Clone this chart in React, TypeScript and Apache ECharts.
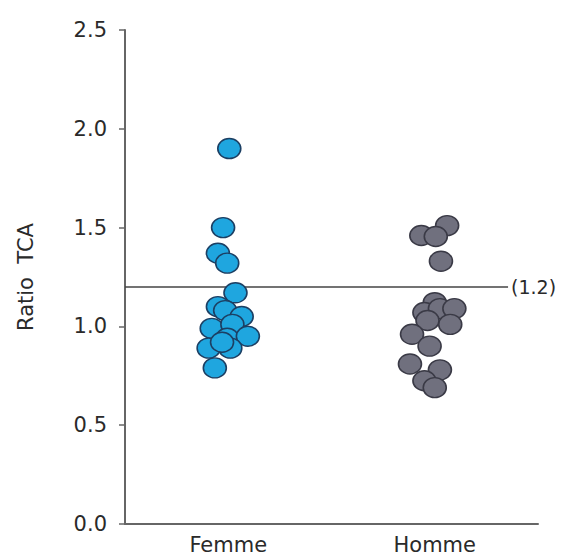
import React, { useEffect, useRef } from "react";
import * as echarts from "echarts";

// Groups on the x axis
const categories = ["Femme", "Homme"];

// Ratio TCA per subject, with a small horizontal jitter (in category units)
const femmeValues = [1.9, 1.5, 1.37, 1.32, 1.17, 1.1, 1.08, 1.05, 0.99, 1.01, 0.94, 0.95, 0.89, 0.89, 0.79, 0.92];
const femmeJitter = [0.005, -0.025, -0.05, -0.005, 0.035, -0.05, -0.015, 0.065, -0.08, 0.02, -0.005, 0.095, 0.01, -0.095, -0.065, -0.03];

const hommeValues = [1.51, 1.46, 1.455, 1.33, 1.12, 1.07, 1.09, 1.09, 1.03, 1.01, 0.96, 0.9, 0.81, 0.78, 0.725, 0.69];
const hommeJitter = [0.06, -0.065, 0.005, 0.03, 0, -0.05, 0.025, 0.095, -0.035, 0.075, -0.11, -0.025, -0.12, 0.025, -0.05, 0];

// Threshold line
const threshold = 1.2;
const thresholdLabel = "(1.2)";

const yTicks = { min: 0, max: 2.5, interval: 0.5 };

const FONT = "DejaVu Sans, Verdana, sans-serif";

// Slightly wide oval marker
const OVAL = "path://M0,50 A50,50 0 1,1 100,50 A50,50 0 1,1 0,50 Z";

export default function App() {
  const ref = useRef<HTMLDivElement>(null);

  useEffect(() => {
    if (!ref.current) return;
    const chart = echarts.init(ref.current, undefined, { renderer: "svg" });

    const femmeData = femmeValues.map((v, i) => [0 + femmeJitter[i], v]);
    const hommeData = hommeValues.map((v, i) => [1 + hommeJitter[i], v]);

    chart.setOption({
      animation: false,
      backgroundColor: "#ffffff",
      grid: { left: 125, right: 35, top: 30, bottom: 36 },
      xAxis: [
        {
          type: "category",
          data: categories,
          boundaryGap: true,
          axisLine: { lineStyle: { color: "#666666", width: 2 } },
          axisTick: { alignWithLabel: true, length: 6, lineStyle: { color: "#666666", width: 1.5 } },
          axisLabel: { color: "#2a2a2a", fontSize: 21, fontFamily: FONT, margin: 10 },
          splitLine: { show: false },
        },
        {
          type: "value",
          min: -0.5,
          max: 1.5,
          show: false,
          splitLine: { show: false },
        },
      ],
      yAxis: {
        type: "value",
        min: yTicks.min,
        max: yTicks.max,
        interval: yTicks.interval,
        name: "Ratio  TCA",
        nameLocation: "middle",
        nameGap: 89,
        nameTextStyle: { color: "#2a2a2a", fontSize: 21, fontFamily: FONT },
        axisLine: { show: true, onZero: false, lineStyle: { color: "#666666", width: 2 } },
        axisTick: { show: true, length: 6, lineStyle: { color: "#666666", width: 1.5 } },
        axisLabel: {
          color: "#2a2a2a",
          fontSize: 21,
          fontFamily: FONT,
          margin: 18,
          formatter: (v: number) => v.toFixed(1),
        },
        splitLine: { show: false },
      },
      series: [
        {
          name: "Femme",
          type: "scatter",
          xAxisIndex: 1,
          symbol: OVAL,
          symbolSize: [23, 20],
          itemStyle: { color: "#1fa6df", borderColor: "#1c3f63", borderWidth: 1.5, opacity: 1 },
          data: femmeData,
          z: 3,
        },
        {
          name: "Homme",
          type: "scatter",
          xAxisIndex: 1,
          symbol: OVAL,
          symbolSize: [23, 20],
          itemStyle: { color: "#70707e", borderColor: "#3a3a46", borderWidth: 1.5, opacity: 1 },
          data: hommeData,
          z: 3,
          markLine: {
            silent: true,
            symbol: ["none", "none"],
            z: 2,
            lineStyle: { color: "#444444", width: 1.5, type: "solid" },
            label: {
              show: true,
              position: "end",
              formatter: thresholdLabel,
              color: "#2a2a2a",
              fontSize: 19,
              fontFamily: FONT,
              distance: 3,
            },
            data: [
              [
                { coord: [-0.5, threshold] },
                { coord: [1.355, threshold] },
              ],
            ],
          },
        },
      ],
    });

    return () => chart.dispose();
  }, []);

  return <div ref={ref} style={{ width: 573, height: 560, margin: -8 }} />;
}
